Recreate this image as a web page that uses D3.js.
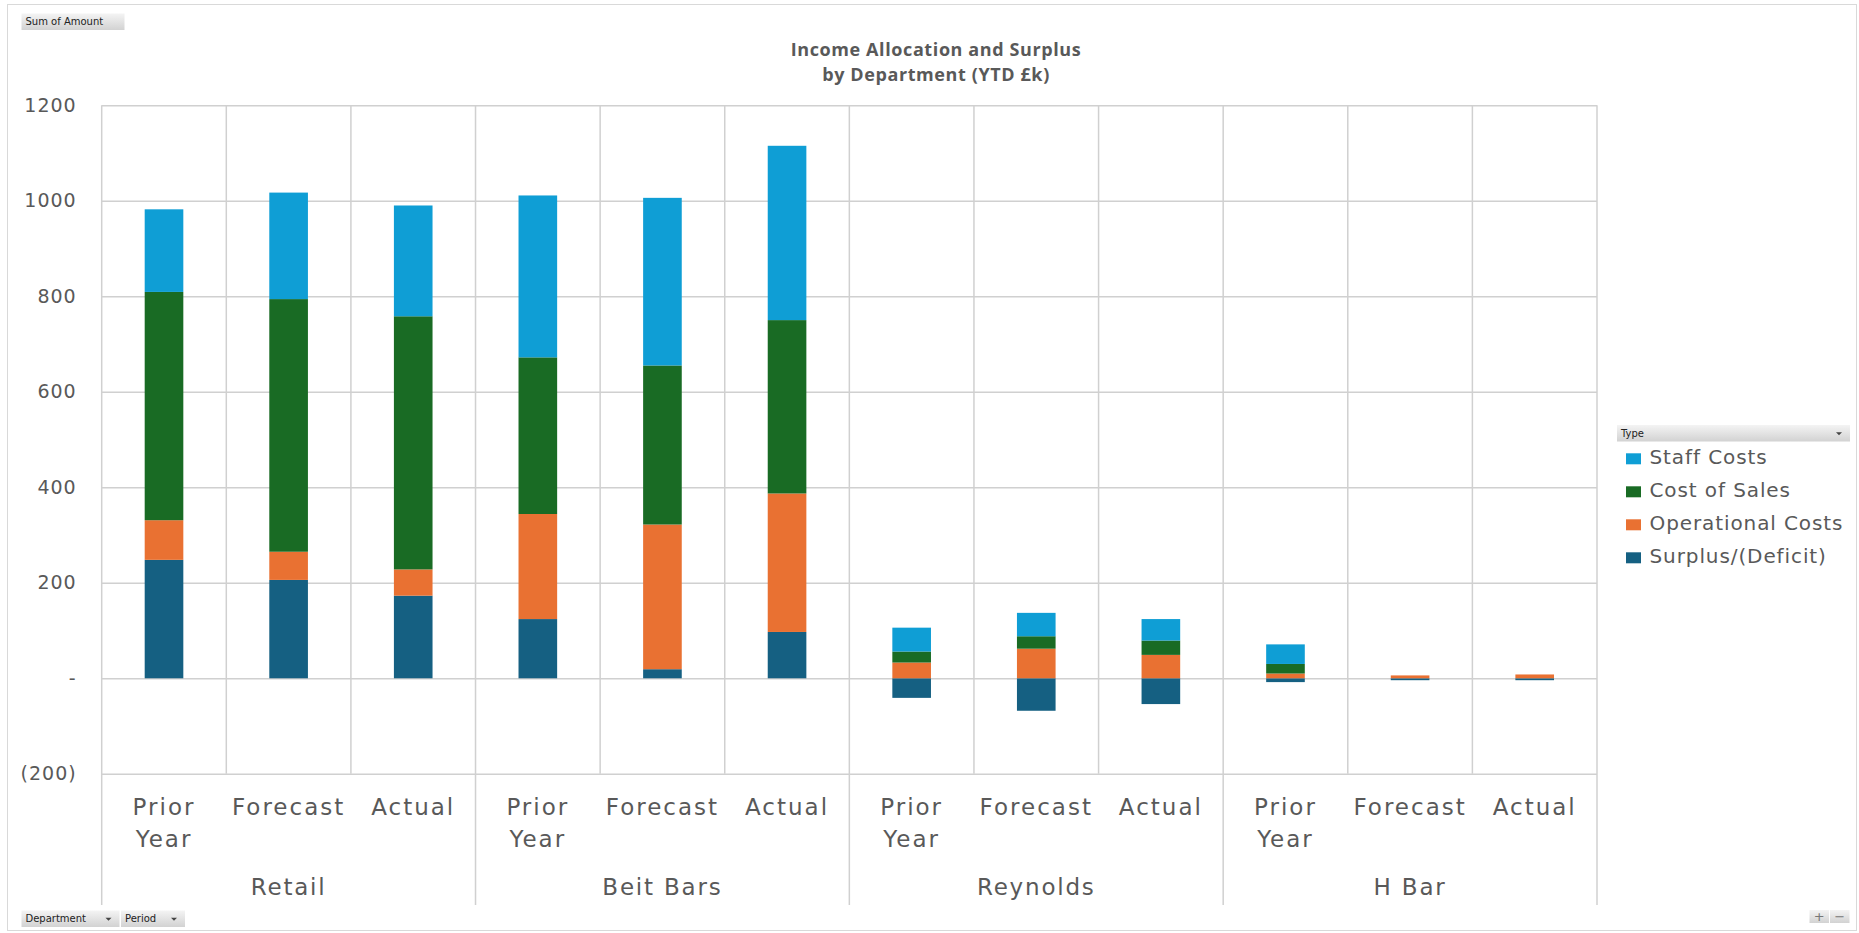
<!DOCTYPE html>
<html>
<head>
<meta charset="utf-8">
<script src="https://cdnjs.cloudflare.com/ajax/libs/d3/7.8.5/d3.min.js"></script>
<style>
  body { margin: 0; background: #fff; }
</style>
</head>
<body>
<div id="chart"></div>
<script>
// chart data (YTD £k)
var departments = ["Retail", "Beit Bars", "Reynolds", "H Bar"];
var periods = ["Prior Year", "Forecast", "Actual"];

// one value per department x period, in the order above
var surplus     = [248, 206, 173,  124,  19,  97,  -41, -68, -54,  -8, -4, -4];
var operational = [ 83,  59,  55,  220, 303, 290,   33,  62,  49,  10,  6,  8];
var costOfSales = [478, 529, 530,  328, 333, 363,   23,  26,  30,  20,  0,  0];
var staffCosts  = [173, 223, 232,  339, 351, 365,   50,  49,  45,  41,  0,  0];

var seriesNames = ["Surplus/(Deficit)", "Operational Costs", "Cost of Sales", "Staff Costs"];
var legendOrder = ["Staff Costs", "Cost of Sales", "Operational Costs", "Surplus/(Deficit)"];
var yTicks = [-200, 0, 200, 400, 600, 800, 1000, 1200];

var colors = {
  "Staff Costs": "#0f9ed5",
  "Cost of Sales": "#196b24",
  "Operational Costs": "#e97132",
  "Surplus/(Deficit)": "#156082"
};

var width = 1859, height = 933;
var plot = {left: 101.7, right: 1597, top: 105.2, bottom: 773.8};
var textColor = "#595959";
var gridColor = "#d0d0d0";
var axisFont = "'DejaVu Sans', Verdana, sans-serif";

// build rows for the stack
var rows = [];
departments.forEach(function(dep, di) {
  periods.forEach(function(per, pi) {
    var i = di * periods.length + pi;
    var r = {key: dep + "|" + per, department: dep, period: per};
    r["Surplus/(Deficit)"] = surplus[i];
    r["Operational Costs"] = operational[i];
    r["Cost of Sales"] = costOfSales[i];
    r["Staff Costs"] = staffCosts[i];
    rows.push(r);
  });
});

var stacked = d3.stack()
  .keys(seriesNames)
  .offset(d3.stackOffsetDiverging)(rows);

var x = d3.scaleBand()
  .domain(rows.map(function(d) { return d.key; }))
  .range([plot.left, plot.right])
  .padding(0);

var xDep = d3.scaleBand()
  .domain(departments)
  .range([plot.left, plot.right])
  .padding(0);

var y = d3.scaleLinear()
  .domain([-200, 1200])
  .range([plot.bottom, plot.top]);

var barWidth = x.step() * 0.31;

var svg = d3.select("#chart").append("svg")
  .attr("width", width)
  .attr("height", height);

// button gradient
var defs = svg.append("defs");
var grad = defs.append("linearGradient")
  .attr("id", "btnGrad")
  .attr("x1", 0).attr("y1", 0).attr("x2", 0).attr("y2", 1);
grad.append("stop").attr("offset", "0%").attr("stop-color", "#f4f4f4");
grad.append("stop").attr("offset", "100%").attr("stop-color", "#d2d2d2");

// outer frame
svg.append("rect")
  .attr("x", 7.5).attr("y", 4.5)
  .attr("width", width - 10).attr("height", height - 7)
  .attr("fill", "none")
  .attr("stroke", "#d9d9d9")
  .attr("stroke-width", 1);

// y axis with gridlines
function fmt(v) {
  if (v === 0) return "-";
  if (v < 0) return "(" + Math.abs(v) + ")";
  return v;
}

var yAxis = d3.axisLeft(y)
  .tickValues(yTicks)
  .tickSize(-(plot.right - plot.left))
  .tickPadding(25)
  .tickFormat(fmt);

svg.append("g")
  .attr("class", "yAxis")
  .attr("transform", "translate(" + plot.left + ",0)")
  .call(yAxis)
  .call(function(g) {
    g.select(".domain").remove();
    g.selectAll(".tick line").attr("stroke", gridColor).attr("stroke-width", 1.5);
    g.selectAll(".tick text")
      .attr("fill", textColor)
      .style("font-family", axisFont)
      .style("font-size", "19px")
      .style("letter-spacing", "1px");
  });

// vertical category lines
var bounds = d3.range(rows.length + 1);
svg.append("g")
  .selectAll("line")
  .data(bounds)
  .enter().append("line")
  .attr("x1", function(i) { return plot.left + i * x.step(); })
  .attr("x2", function(i) { return plot.left + i * x.step(); })
  .attr("y1", plot.top)
  .attr("y2", function(i) { return i % periods.length === 0 ? 905 : plot.bottom; })
  .attr("stroke", gridColor)
  .attr("stroke-width", 1.5);

// stacked bars
svg.append("g")
  .selectAll("g")
  .data(stacked)
  .enter().append("g")
  .attr("fill", function(s) { return colors[s.key]; })
  .selectAll("rect")
  .data(function(s) { return s; })
  .enter().append("rect")
  .attr("x", function(d) { return x(d.data.key) + (x.step() - barWidth) / 2; })
  .attr("y", function(d) { return y(Math.max(d[0], d[1])); })
  .attr("width", barWidth)
  .attr("height", function(d) { return Math.abs(y(d[0]) - y(d[1])); });

// period labels
var catLabels = svg.append("g")
  .selectAll("text")
  .data(rows)
  .enter().append("text")
  .attr("x", function(d) { return x(d.key) + x.step() / 2; })
  .attr("y", 815)
  .attr("text-anchor", "middle")
  .attr("fill", textColor)
  .style("font-family", axisFont)
  .style("font-size", "23px")
  .style("letter-spacing", "2px");

catLabels.each(function(d) {
  var words = d.period.split(" ");
  var t = d3.select(this);
  words.forEach(function(w, i) {
    t.append("tspan")
      .attr("x", x(d.key) + x.step() / 2)
      .attr("dy", i === 0 ? 0 : 32)
      .text(w);
  });
});

// department labels
svg.append("g")
  .selectAll("text")
  .data(departments)
  .enter().append("text")
  .attr("x", function(d) { return xDep(d) + xDep.bandwidth() / 2; })
  .attr("y", 895)
  .attr("text-anchor", "middle")
  .attr("fill", textColor)
  .style("font-family", axisFont)
  .style("font-size", "23px")
  .style("letter-spacing", "1.8px")
  .text(function(d) { return d; });

// title, two separate lines
var titleLines = ["Income Allocation and Surplus", "by Department (YTD £k)"];
svg.append("g")
  .selectAll("text")
  .data(titleLines)
  .enter().append("text")
  .attr("x", 936)
  .attr("y", function(d, i) { return 55.5 + i * 25; })
  .attr("text-anchor", "middle")
  .attr("fill", textColor)
  .style("font-family", "'Open Sans', sans-serif")
  .style("font-weight", "bold")
  .style("font-size", "18px")
  .style("letter-spacing", "0.6px")
  .text(function(d) { return d; });

// field buttons
function button(x0, y0, w, h, label, arrow) {
  var g = svg.append("g");
  g.append("rect")
    .attr("x", x0).attr("y", y0)
    .attr("width", w).attr("height", h)
    .attr("fill", "url(#btnGrad)");
  g.append("text")
    .attr("x", x0 + 4).attr("y", y0 + h / 2 + 3.5)
    .attr("fill", "#222")
    .style("font-family", axisFont)
    .style("font-size", "10px")
    .text(label);
  if (arrow) {
    var ax = x0 + w - 11, ay = y0 + h / 2 - 1;
    g.append("path")
      .attr("d", "M" + (ax - 3) + "," + ay + "L" + (ax + 3) + "," + ay + "L" + ax + "," + (ay + 3) + "Z")
      .attr("fill", "#444");
  }
}

button(21.5, 13.5, 103, 16.5, "Sum of Amount", false);
button(21.5, 910.5, 98, 16.5, "Department", true);
button(121, 910.5, 64, 16.5, "Period", true);
button(1617, 425, 233, 16.5, "Type", true);

// zoom buttons
[["+", 1809.5], ["\u2212", 1830]].forEach(function(b) {
  svg.append("rect")
    .attr("x", b[1]).attr("y", 910)
    .attr("width", 19.5).attr("height", 13)
    .attr("fill", "url(#btnGrad)");
  svg.append("text")
    .attr("x", b[1] + 9.75).attr("y", 921)
    .attr("text-anchor", "middle")
    .attr("fill", "#777")
    .style("font-family", axisFont)
    .style("font-size", "13px")
    .text(b[0]);
});

// legend
var legend = svg.append("g")
  .selectAll("g")
  .data(legendOrder)
  .enter().append("g")
  .attr("transform", function(d, i) { return "translate(1626," + (464.3 + i * 33) + ")"; });

legend.append("rect")
  .attr("x", 0).attr("y", -11)
  .attr("width", 15).attr("height", 11)
  .attr("fill", function(d) { return colors[d]; });

legend.append("text")
  .attr("x", 23.5).attr("y", 0)
  .attr("fill", textColor)
  .style("font-family", axisFont)
  .style("font-size", "20px")
  .style("letter-spacing", "0.9px")
  .text(function(d) { return d; });
</script>
</body>
</html>
